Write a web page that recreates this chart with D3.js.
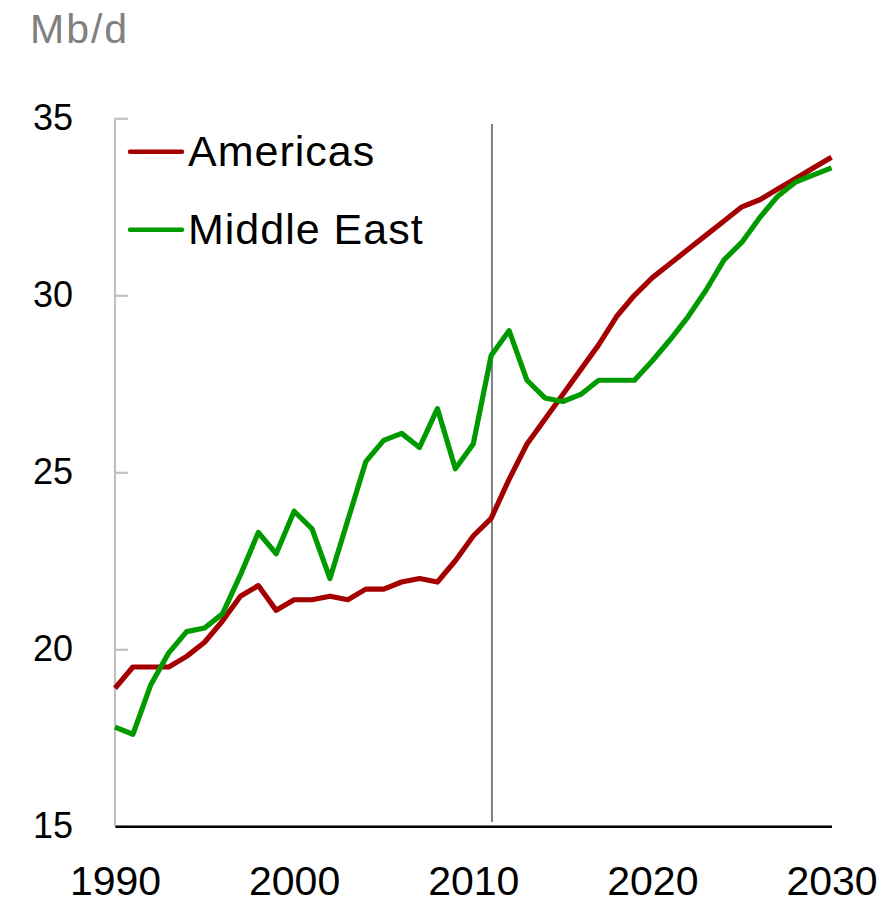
<!DOCTYPE html>
<html>
<head>
<meta charset="utf-8">
<script src="https://cdn.jsdelivr.net/npm/d3@7/dist/d3.min.js"></script>
<style>
  html, body { margin: 0; padding: 0; background: #fff; }
  svg { display: block; font-family: "Liberation Sans", Arial, Helvetica, sans-serif; }
</style>
</head>
<body>
<svg id="chart" width="895" height="907"></svg>
<script>
const years = d3.range(1990, 2031);
const americas = [18.9, 19.5, 19.5, 19.5, 19.8, 20.2, 20.8, 21.5, 21.8, 21.1,
  21.4, 21.4, 21.5, 21.4, 21.7, 21.7, 21.9, 22.0, 21.9, 22.5,
  23.2, 23.7, 24.8, 25.8, 26.5, 27.2, 27.9, 28.6, 29.4, 30.0,
  30.5, 30.9, 31.3, 31.7, 32.1, 32.5, 32.7, 33.0, 33.3, 33.6, 33.9];
const middleEast = [17.8, 17.6, 19.0, 19.9, 20.5, 20.6, 21.0, 22.1, 23.3, 22.7,
  23.9, 23.4, 22.0, 23.65, 25.3, 25.9, 26.1, 25.7, 26.8, 25.1,
  25.8, 28.3, 29.0, 27.6, 27.1, 27.0, 27.2, 27.6, 27.6, 27.6,
  28.15, 28.75, 29.4, 30.15, 31.0, 31.5, 32.2, 32.8, 33.2, 33.4, 33.6];
const seriesNames = ["Americas", "Middle East"];
const seriesColors = ["#a50000", "#009a00"];
const yTicks = [15, 20, 25, 30, 35];
const xTicks = [1990, 2000, 2010, 2020, 2030];
const markerYear = 2011;
const unitLabel = "Mb/d";

const svg = d3.select("#chart");
const x = d3.scaleLinear().domain([1990, 2030]).range([115, 831.5]);
const y = d3.scaleLinear().domain([15, 35]).range([826.3, 118.3]);

// unit label
svg.append("text").attr("x", 30).attr("y", 43)
  .attr("font-size", 41).attr("letter-spacing", 2).attr("fill", "#808080").text(unitLabel);

// y axis (gray line with inward ticks)
const yAxis = d3.axisRight(y).tickValues(yTicks).tickSize(13).tickFormat("");
const gy = svg.append("g").attr("transform", `translate(${x(1990)},0)`).call(yAxis);
gy.select(".domain").attr("stroke", "#c0c0c0").attr("stroke-width", 2.2)
  .attr("d", `M0,${y(35)}V${y(15)}`);
gy.selectAll(".tick line").attr("stroke", "#c0c0c0").attr("stroke-width", 2.2);

// y labels
svg.append("g").selectAll("text").data(yTicks).join("text")
  .attr("x", 73).attr("y", d => y(d) + 12)
  .attr("text-anchor", "end").attr("font-size", 36).attr("fill", "#000")
  .text(d => d);

// marker vertical line
svg.append("line")
  .attr("x1", x(markerYear) + 0.8).attr("x2", x(markerYear) + 0.8)
  .attr("y1", 124).attr("y2", 822)
  .attr("stroke", "#808080").attr("stroke-width", 2);

// x axis
const xAxis = d3.axisBottom(x).tickValues(xTicks).tickSize(0).tickPadding(0).tickFormat(d3.format("d"));
const gx = svg.append("g").attr("transform", `translate(0,${y(15)})`).call(xAxis);
gx.select(".domain").attr("stroke", "#000").attr("stroke-width", 2.6);
gx.selectAll(".tick text").attr("font-size", 41).attr("fill", "#000")
  .attr("font-family", '"Liberation Sans", Arial, sans-serif')
  .attr("dy", 0).attr("y", 69);

// lines
const line = d3.line().x((d, i) => x(years[i])).y(d => y(d));
[americas, middleEast].forEach((vals, k) => {
  svg.append("path").datum(vals)
    .attr("d", line)
    .attr("fill", "none")
    .attr("stroke", seriesColors[k])
    .attr("stroke-width", 5.2)
    .attr("stroke-linejoin", "round");
});

// legend
const legendY = [151.7, 229.7];
seriesNames.forEach((name, k) => {
  svg.append("line")
    .attr("x1", 130).attr("x2", 182)
    .attr("y1", legendY[k]).attr("y2", legendY[k])
    .attr("stroke", seriesColors[k]).attr("stroke-width", 4.5)
    .attr("stroke-linecap", "round");
  svg.append("text").attr("x", 188).attr("y", legendY[k] + 14)
    .attr("font-size", 43).attr("letter-spacing", 1).attr("fill", "#000").text(name);
});
</script>
</body>
</html>
